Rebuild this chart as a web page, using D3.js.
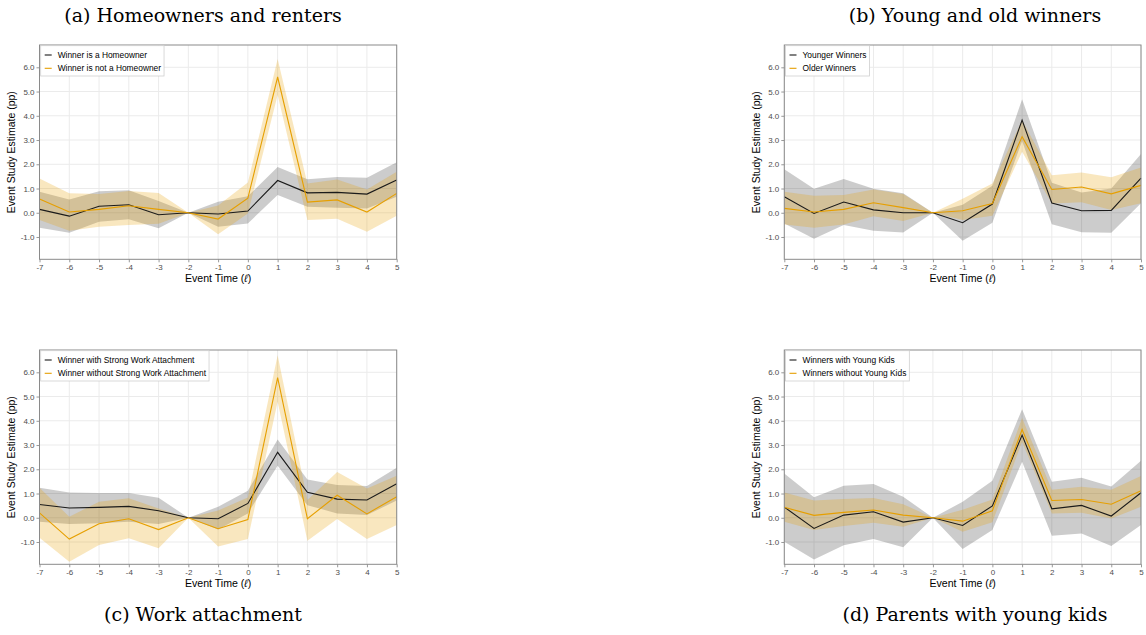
<!DOCTYPE html>
<html>
<head>
<meta charset="utf-8">
<script src="https://cdn.jsdelivr.net/npm/d3@7"></script>
<style>
  html, body { margin: 0; padding: 0; background: #fff; }
  svg { display: block; }
</style>
</head>
<body>
<svg id="chart" width="1146" height="635"></svg>
<script>
// Event-time grid shared by all panels
const eventTimes = [-7, -6, -5, -4, -3, -2, -1, 0, 1, 2, 3, 4, 5];
const yTicks = [-1, 0, 1, 2, 3, 4, 5, 6];

// (a) Homeowners and renters
const ownerEst   = [0.14, -0.14, 0.27, 0.33, -0.08, 0, -0.05, 0.07, 1.33, 0.82, 0.84, 0.77, 1.35];
const ownerLo    = [-0.62, -0.82, -0.37, -0.27, -0.64, 0, -0.58, -0.44, 0.73, 0.25, 0.21, 0.18, 0.66];
const ownerHi    = [0.87, 0.55, 0.89, 0.93, 0.49, 0, 0.45, 0.68, 1.89, 1.38, 1.47, 1.44, 2.08];
const renterEst  = [0.57, 0.03, 0.14, 0.29, 0.14, 0, -0.26, 0.60, 5.60, 0.44, 0.53, 0.03, 0.80];
const renterLo   = [-0.30, -0.74, -0.58, -0.51, -0.45, 0, -0.89, -0.03, 4.86, -0.30, -0.25, -0.78, -0.12];
const renterHi   = [1.41, 0.80, 0.77, 0.90, 0.82, 0, 0.30, 1.25, 6.34, 1.21, 1.37, 0.96, 1.69];

// (b) Young and old winners
const youngEst   = [0.66, -0.03, 0.44, 0.12, 0.00, 0, -0.41, 0.36, 3.82, 0.40, 0.08, 0.10, 1.43];
const youngLo    = [-0.44, -1.07, -0.51, -0.74, -0.81, 0, -1.15, -0.41, 2.96, -0.47, -0.80, -0.82, 0.39];
const youngHi    = [1.79, 0.99, 1.39, 0.99, 0.80, 0, 0.33, 1.11, 4.68, 1.24, 0.84, 1.00, 2.42];
const oldEst     = [0.18, 0.03, 0.14, 0.41, 0.21, 0, 0.08, 0.38, 3.14, 0.96, 1.06, 0.78, 1.13];
const oldLo      = [-0.48, -0.62, -0.48, -0.14, -0.34, 0, -0.30, -0.12, 2.52, 0.38, 0.43, 0.11, 0.39];
const oldHi      = [0.87, 0.70, 0.73, 0.96, 0.77, 0, 0.58, 1.21, 3.82, 1.55, 1.66, 1.46, 1.87];

// (c) Work attachment
const strongEst  = [0.55, 0.40, 0.43, 0.47, 0.29, 0, -0.04, 0.59, 2.70, 1.05, 0.77, 0.73, 1.40];
const strongLo   = [-0.16, -0.26, -0.23, -0.16, -0.26, 0, -0.48, 0.18, 2.15, 0.52, 0.18, 0.11, 0.71];
const strongHi   = [1.24, 1.04, 1.02, 1.02, 0.83, 0, 0.45, 1.11, 3.23, 1.58, 1.35, 1.31, 2.06];
const weakEst    = [0.20, -0.88, -0.25, -0.04, -0.49, 0, -0.45, -0.07, 5.78, -0.04, 0.93, 0.16, 0.87];
const weakLo     = [-0.82, -1.81, -1.12, -0.85, -1.26, 0, -1.19, -0.88, 4.79, -0.95, -0.05, -0.88, -0.30];
const weakHi     = [1.24, 0.04, 0.66, 0.80, 0.38, 0, 0.30, 0.84, 6.70, 0.73, 1.89, 1.21, 1.73];

// (d) Parents with young kids
const kidsEst    = [0.44, -0.44, 0.11, 0.25, -0.18, 0, -0.32, 0.49, 3.41, 0.37, 0.51, 0.07, 1.03];
const kidsLo     = [-0.99, -1.72, -1.13, -0.88, -1.22, 0, -1.29, -0.51, 2.31, -0.74, -0.65, -1.16, -0.30];
const kidsHi     = [1.83, 0.85, 1.32, 1.39, 0.87, 0, 0.66, 1.53, 4.48, 1.49, 1.65, 1.29, 2.35];
const noKidsEst  = [0.43, 0.10, 0.22, 0.32, 0.11, 0, -0.14, 0.29, 3.64, 0.71, 0.75, 0.56, 1.11];
const noKidsLo   = [-0.16, -0.51, -0.34, -0.21, -0.37, 0, -0.58, -0.19, 3.14, 0.18, 0.21, -0.03, 0.45];
const noKidsHi   = [1.04, 0.71, 0.77, 0.82, 0.56, 0, 0.33, 0.75, 4.12, 1.16, 1.28, 1.16, 1.72];

const panels = [
  { title: "(a) Homeowners and renters", col: 0, row: 0,
    series: [
      { name: "Winner is a Homeowner", est: ownerEst, lo: ownerLo, hi: ownerHi, kind: "dark" },
      { name: "Winner is not a Homeowner", est: renterEst, lo: renterLo, hi: renterHi, kind: "orange" }
    ] },
  { title: "(b) Young and old winners", col: 1, row: 0,
    series: [
      { name: "Younger Winners", est: youngEst, lo: youngLo, hi: youngHi, kind: "dark" },
      { name: "Older Winners", est: oldEst, lo: oldLo, hi: oldHi, kind: "orange" }
    ] },
  { title: "(c) Work attachment", col: 0, row: 1,
    series: [
      { name: "Winner with Strong Work Attachment", est: strongEst, lo: strongLo, hi: strongHi, kind: "dark" },
      { name: "Winner without Strong Work Attachment", est: weakEst, lo: weakLo, hi: weakHi, kind: "orange" }
    ] },
  { title: "(d) Parents with young kids", col: 1, row: 1,
    series: [
      { name: "Winners with Young Kids", est: kidsEst, lo: kidsLo, hi: kidsHi, kind: "dark" },
      { name: "Winners without Young Kids", est: noKidsEst, lo: noKidsLo, hi: noKidsHi, kind: "orange" }
    ] }
];

const style = {
  dark:   { line: "#1a1a1a", fill: "rgba(0,0,0,0.2)" },
  orange: { line: "#E69F00", fill: "rgba(230,159,0,0.25)" }
};

const svg = d3.select("#chart");
const sansFont = "'Liberation Sans', Arial, sans-serif";
const serifFont = "'DejaVu Serif', 'Liberation Serif', serif";

// Plot-area geometry for the two columns and two rows
const colX = [{ left: 39.5, right: 396.7, center: 203 }, { left: 784.3, right: 1141, center: 975 }];
const rowY = [{ top: 45, bottom: 259.3, titleY: 22 }, { top: 350, bottom: 564.3, titleY: 621 }];

panels.forEach(p => {
  const cx = colX[p.col], ry = rowY[p.row];
  const x = d3.scaleLinear().domain([-7, 5]).range([cx.left, cx.right]);
  const y = d3.scaleLinear().domain([-1.92, 6.92]).range([ry.bottom, ry.top]);
  const g = svg.append("g");

  // panel background and grid
  g.append("rect").attr("x", cx.left).attr("y", ry.top)
    .attr("width", cx.right - cx.left).attr("height", ry.bottom - ry.top)
    .attr("fill", "#fff");
  g.append("g").selectAll("line").data(eventTimes).join("line")
    .attr("x1", d => x(d)).attr("x2", d => x(d))
    .attr("y1", ry.top).attr("y2", ry.bottom)
    .attr("stroke", "#ebebeb").attr("stroke-width", 1);
  g.append("g").selectAll("line").data(yTicks).join("line")
    .attr("x1", cx.left).attr("x2", cx.right)
    .attr("y1", d => y(d)).attr("y2", d => y(d))
    .attr("stroke", "#ebebeb").attr("stroke-width", 1);

  // confidence ribbons
  const area = d3.area().x(d => x(d.t)).y0(d => y(d.lo)).y1(d => y(d.hi));
  p.series.forEach(s => {
    const rows = eventTimes.map((t, i) => ({ t, lo: s.lo[i], hi: s.hi[i] }));
    g.append("path").datum(rows).attr("d", area)
      .attr("fill", style[s.kind].fill).attr("stroke", "none");
  });

  // point-estimate lines
  const line = d3.line().x(d => x(d.t)).y(d => y(d.v));
  p.series.forEach(s => {
    const rows = eventTimes.map((t, i) => ({ t, v: s.est[i] }));
    g.append("path").datum(rows).attr("d", line)
      .attr("fill", "none").attr("stroke", style[s.kind].line).attr("stroke-width", 1.1);
  });

  // axes
  const xAxis = d3.axisBottom(x).tickValues(eventTimes).tickSize(3).tickPadding(2)
    .tickFormat(d => d3.format("d")(d).replace("−", "-"));
  const yAxis = d3.axisLeft(y).tickValues(yTicks).tickSize(3).tickPadding(2)
    .tickFormat(d => d3.format(".1f")(d).replace("−", "-"));
  const gx = g.append("g").attr("transform", `translate(0,${ry.bottom})`).call(xAxis);
  const gy = g.append("g").attr("transform", `translate(${cx.left},0)`).call(yAxis);
  [gx, gy].forEach(a => {
    a.select(".domain").remove();
    a.selectAll(".tick line").attr("stroke", "#7f7f7f").attr("stroke-width", 0.8);
    a.selectAll(".tick text").attr("fill", "#4d4d4d")
      .attr("font-family", sansFont).attr("font-size", 8);
  });

  // panel border
  g.append("rect").attr("x", cx.left).attr("y", ry.top)
    .attr("width", cx.right - cx.left).attr("height", ry.bottom - ry.top)
    .attr("fill", "none").attr("stroke", "#8a8a8a").attr("stroke-width", 1);

  // axis titles
  const xt = g.append("text").attr("x", (cx.left + cx.right) / 2).attr("y", ry.bottom + 22.5)
    .attr("text-anchor", "middle").attr("font-family", sansFont).attr("font-size", 10.6)
    .attr("fill", "#000");
  xt.append("tspan").text("Event Time (");
  xt.append("tspan").attr("font-style", "italic").text("ℓ");
  xt.append("tspan").text(")");
  g.append("text")
    .attr("transform", `translate(${cx.left - 24.5},${(ry.top + ry.bottom) / 2}) rotate(-90)`)
    .attr("text-anchor", "middle").attr("font-family", sansFont).attr("font-size", 10.5)
    .attr("fill", "#000").text("Event Study Estimate (pp)");

  // legend
  const lg = g.append("g").attr("transform", `translate(${cx.left + 1.2},${ry.top + 0.7})`);
  const box = lg.append("rect").attr("fill", "#fff").attr("stroke", "#cfcfcf").attr("stroke-width", 0.8);
  let maxW = 0;
  p.series.forEach((s, i) => {
    const cy = 9.3 + i * 13.3;
    lg.append("line").attr("x1", 4).attr("x2", 11).attr("y1", cy).attr("y2", cy)
      .attr("stroke", style[s.kind].line).attr("stroke-width", 1.1);
    const t = lg.append("text").attr("x", 17).attr("y", cy).attr("dy", "0.35em")
      .attr("font-family", sansFont).attr("font-size", 8.4).attr("fill", "#000").text(s.name);
    maxW = Math.max(maxW, t.node().getComputedTextLength());
  });
  box.attr("x", 0).attr("y", 0).attr("width", 17 + maxW + 3).attr("height", 30.3);

  // sub-figure caption
  svg.append("text").attr("x", cx.center).attr("y", ry.titleY)
    .attr("text-anchor", "middle").attr("font-family", serifFont).attr("font-size", 19)
    .attr("fill", "#000").text(p.title);
});
</script>
</body>
</html>
